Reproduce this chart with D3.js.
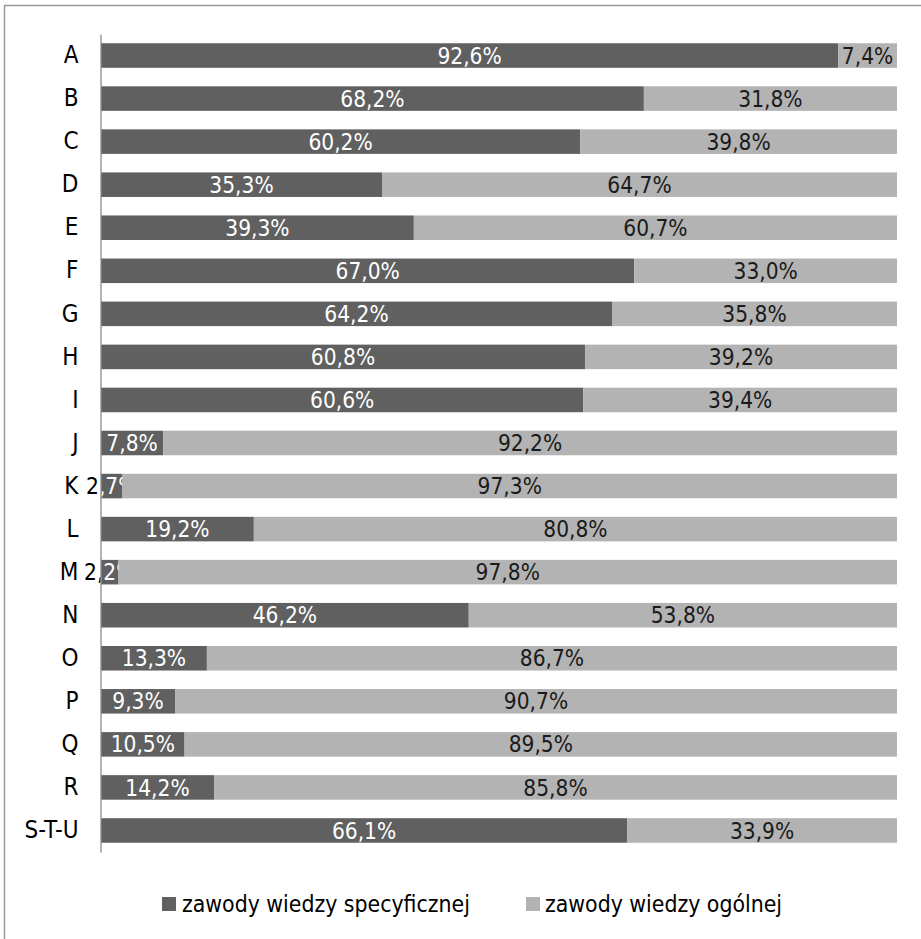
<!DOCTYPE html>
<html>
<head>
<meta charset="utf-8">
<script src="https://cdn.jsdelivr.net/npm/d3@7"></script>
<style>
  body { margin: 0; background: #fff; }
  svg text { font-family: "Liberation Sans Narrow", "DejaVu Sans Condensed", sans-serif; }
</style>
</head>
<body>
<div id="chart"></div>
<script>
// sections (PKD) and share of occupations
const categories = ["A","B","C","D","E","F","G","H","I","J","K","L","M","N","O","P","Q","R","S-T-U"];
const specific = [92.6,68.2,60.2,35.3,39.3,67.0,64.2,60.8,60.6,7.8,2.7,19.2,2.2,46.2,13.3,9.3,10.5,14.2,66.1];
const general  = [7.4,31.8,39.8,64.7,60.7,33.0,35.8,39.2,39.4,92.2,97.3,80.8,97.8,53.8,86.7,90.7,89.5,85.8,33.9];
const seriesNames = ["zawody wiedzy specyficznej", "zawody wiedzy ogólnej"];

const W = 921, H = 939;
const colors = ["#606060", "#b3b3b3"];
const labelColors = ["#ffffff", "#1a1a1a"];

const svg = d3.select("#chart").append("svg")
    .attr("width", W).attr("height", H);

// frame (only top and left edges are visible in the crop)
svg.append("path")
    .attr("d", "M4.5,940 V5.5 H922")
    .attr("fill", "none").attr("stroke", "#9a9a9a").attr("stroke-width", 1.5);

const x = d3.scaleLinear().domain([0, 100]).range([101, 897]);
const y = d3.scaleBand().domain(categories).range([34, 852]).paddingInner(0.43).paddingOuter(0.215);

const pl = d3.formatLocale({decimal: ",", thousands: " ", grouping: [3], currency: ["", ""]});
const fmt = v => pl.format(".1f")(v) + "%";

const rows = categories.map((c, i) => ({cat: c, vals: [specific[i], general[i]]}));
const stack = d3.stack().keys([0, 1]).value((d, k) => d.vals[k]);
const layers = stack(rows);

svg.append("clipPath").attr("id", "inside")
  .append("rect").attr("x", 101).attr("y", 0).attr("width", 900).attr("height", H);
svg.append("clipPath").attr("id", "outside")
  .append("rect").attr("x", 0).attr("y", 0).attr("width", 101).attr("height", H);

layers.forEach((layer, k) => {
  const g = svg.append("g");
  g.selectAll("rect").data(layer).enter().append("rect")
    .attr("x", d => x(d[0]))
    .attr("y", d => y(d.data.cat))
    .attr("width", d => x(d[1]) - x(d[0]))
    .attr("height", y.bandwidth())
    .attr("fill", colors[k]);

  const lab = d => fmt(d.data.vals[k]);
  g.selectAll("text.in").data(layer).enter().append("text")
    .attr("clip-path", "url(#inside)")
    .attr("x", d => (x(d[0]) + x(d[1])) / 2)
    .attr("y", d => y(d.data.cat) + y.bandwidth() / 2)
    .attr("dy", "0.36em")
    .attr("text-anchor", "middle")
    .attr("font-size", 22.5)
    .attr("fill", labelColors[k])
    .text(lab);
  if (k === 0) {
    // part of a small label spilling left of the axis shows dark on white
    g.selectAll("text.out").data(layer).enter().append("text")
      .attr("clip-path", "url(#outside)")
      .attr("x", d => (x(d[0]) + x(d[1])) / 2)
      .attr("y", d => y(d.data.cat) + y.bandwidth() / 2)
      .attr("dy", "0.36em")
      .attr("text-anchor", "middle")
      .attr("font-size", 22.5)
      .attr("fill", "#000")
      .text(lab);
  }
});

// category axis
const yAxis = svg.append("g")
    .attr("transform", "translate(100.5,0)")
    .call(d3.axisLeft(y).tickSize(0).tickPadding(22));
yAxis.select(".domain").attr("stroke", "#8c8c8c").attr("stroke-width", 1.3);
yAxis.selectAll("text")
    .attr("font-size", 24)
    .attr("fill", "#000")
    .style("font-family", "'Liberation Sans Narrow', 'DejaVu Sans Condensed', sans-serif");

// legend
const legX = [162, 526];
const legTextX = [182, 545];
const leg = svg.append("g");
seriesNames.forEach((name, k) => {
  leg.append("rect")
    .attr("x", legX[k]).attr("y", 897)
    .attr("width", 14).attr("height", 14)
    .attr("fill", colors[k]);
  leg.append("text")
    .attr("x", legTextX[k]).attr("y", 904)
    .attr("dy", "0.36em")
    .attr("font-size", 22.8)
    .attr("fill", "#000")
    .text(name);
});
</script>
</body>
</html>
